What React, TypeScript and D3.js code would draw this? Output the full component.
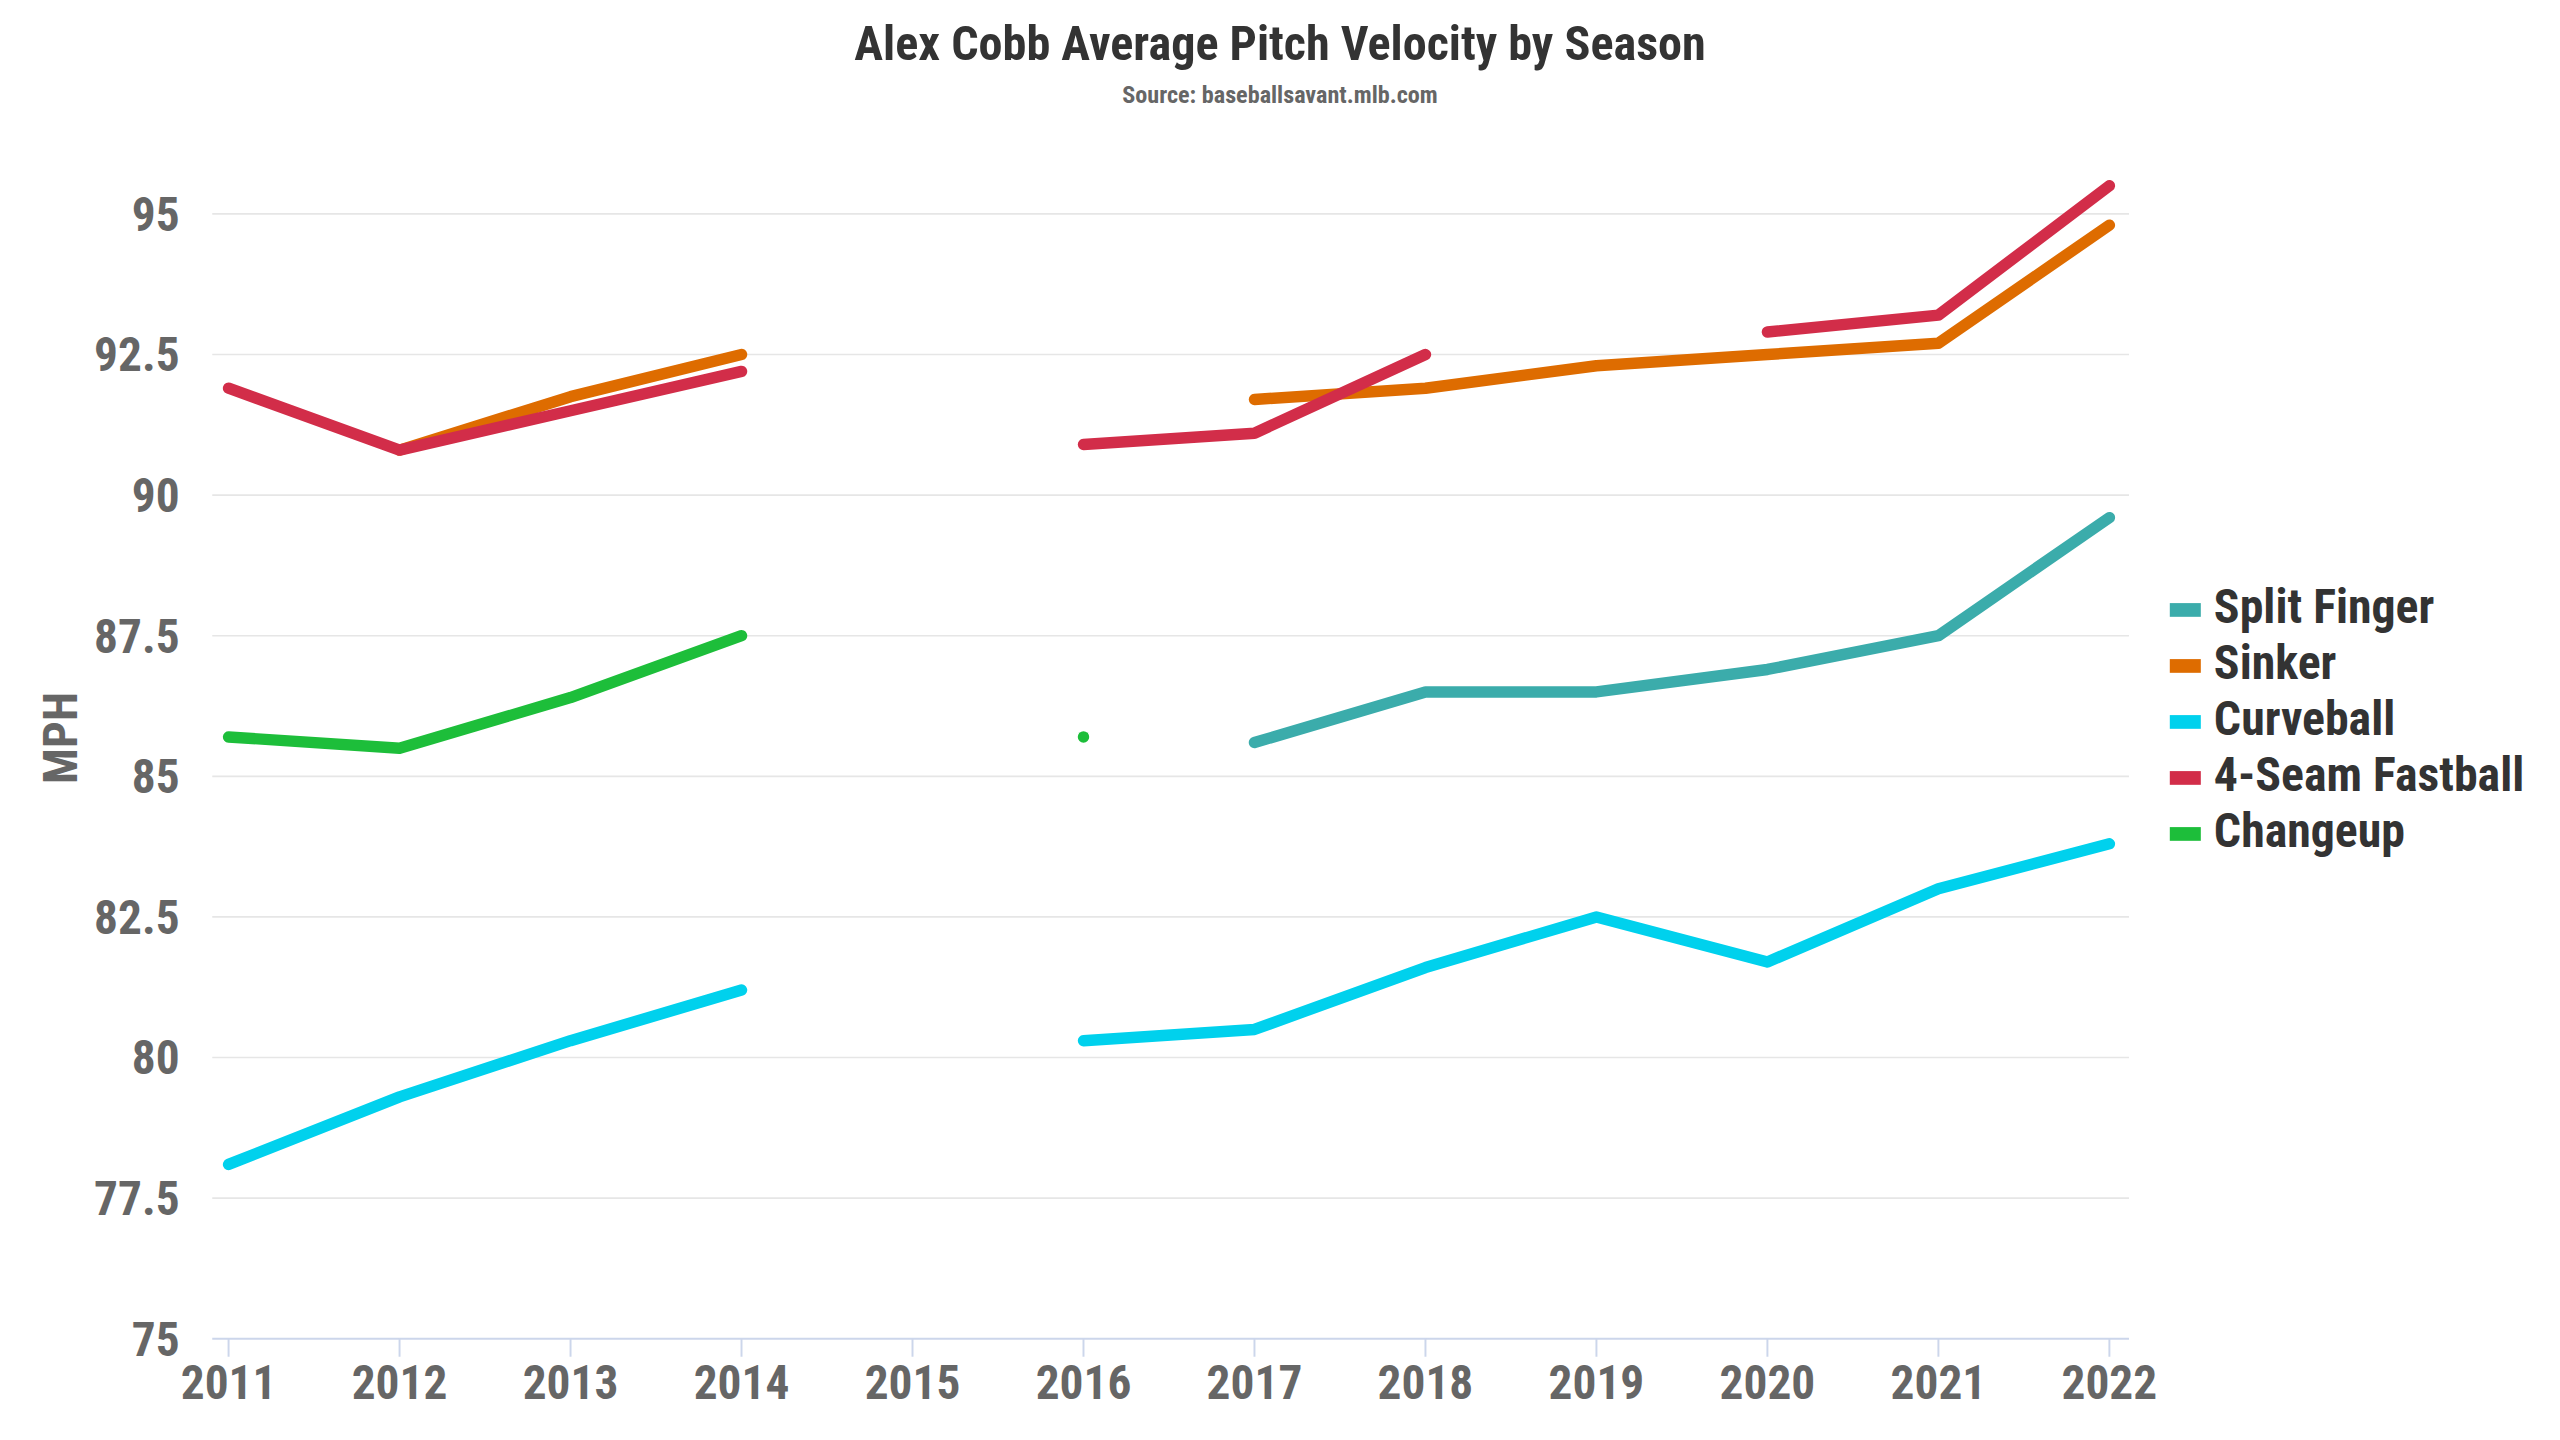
import React, { useEffect } from 'react';
import * as d3 from 'd3';

const years = [2011, 2012, 2013, 2014, 2015, 2016, 2017, 2018, 2019, 2020, 2021, 2022];
const seriesNames = ['Split Finger', 'Sinker', 'Curveball', '4-Seam Fastball', 'Changeup'];
const seriesColors = ['#3bacab', '#de6c00', '#00d1ed', '#d22d49', '#1dbe3a'];
const splitFinger = [null, null, null, null, null, null, 85.6, 86.5, 86.5, 86.9, 87.5, 89.6];
const sinker = [null, 90.8, 91.75, 92.5, null, null, 91.7, 91.9, 92.3, 92.5, 92.7, 94.8];
const curveball = [78.1, 79.3, 80.3, 81.2, null, 80.3, 80.5, 81.6, 82.5, 81.7, 83.0, 83.8];
const fourSeam = [91.9, 90.8, 91.5, 92.2, null, 90.9, 91.1, 92.5, null, 92.9, 93.2, 95.5];
const changeup = [85.7, 85.5, 86.4, 87.5, null, 85.7, null, null, null, null, null, null];
const yTicks = [75, 77.5, 80, 82.5, 85, 87.5, 90, 92.5, 95];
const allSeries = [splitFinger, sinker, curveball, fourSeam, changeup];

const W = 1568;
const H = 882;
const FONT = "'Roboto Condensed', Roboto, 'Liberation Sans', sans-serif";

export default function App() {
  useEffect(() => {
    document.body.style.margin = '0';
  }, []);

  const x = d3.scaleLinear().domain([2011, 2022]).range([140, 1292]);
  const y = d3.scaleLinear().domain([75, 95]).range([820, 131]);
  const plotLeft = 130;
  const plotRight = 1304;

  const line = d3
    .line<number | null>()
    .defined((d) => d !== null)
    .x((_, i) => x(years[i]))
    .y((d) => y(d as number));

  const isolated = (vals: (number | null)[]) =>
    vals
      .map((v, i) => ({ v, i }))
      .filter(
        ({ v, i }) =>
          v !== null && (i === 0 || vals[i - 1] === null) && (i === vals.length - 1 || vals[i + 1] === null)
      );

  const legendY0 = 373.6;
  const legendStep = 34.3;

  return (
    <svg width={2560} height={1440} viewBox={`0 0 ${W} ${H}`} style={{ display: 'block', background: '#fff' }}>
      <rect x={0} y={0} width={W} height={H} fill="#fff" />
      {/* title */}
      <text x={784} y={37} textAnchor="middle" fontFamily={FONT} fontWeight={700} fontSize={29.5} fill="#333333">
        Alex Cobb Average Pitch Velocity by Season
      </text>
      <text x={784} y={63} textAnchor="middle" fontFamily={FONT} fontWeight={700} fontSize={14.8} fill="#666666">
        Source: baseballsavant.mlb.com
      </text>
      {/* grid */}
      {yTicks.map((t) =>
        t === 75 ? null : (
          <line key={t} x1={plotLeft} x2={plotRight} y1={y(t)} y2={y(t)} stroke="#e6e6e6" strokeWidth={1} />
        )
      )}
      {/* y labels */}
      {yTicks.map((t) => (
        <text
          key={'yl' + t}
          x={110}
          y={y(t) + 10.3}
          textAnchor="end"
          fontFamily={FONT}
          fontWeight={700}
          fontSize={29}
          fill="#666666"
        >
          {String(t)}
        </text>
      ))}
      <text
        transform="translate(47,452) rotate(-90)"
        textAnchor="middle"
        fontFamily={FONT}
        fontWeight={700}
        fontSize={29}
        fill="#666666"
      >
        MPH
      </text>
      {/* x axis */}
      <line x1={plotLeft} x2={plotRight} y1={820} y2={820} stroke="#ccd6eb" strokeWidth={1.2} />
      {years.map((yr) => (
        <g key={yr}>
          <line x1={x(yr)} x2={x(yr)} y1={820} y2={831} stroke="#ccd6eb" strokeWidth={1.2} />
          <text
            x={x(yr)}
            y={857}
            textAnchor="middle"
            fontFamily={FONT}
            fontWeight={700}
            fontSize={29}
            fill="#666666"
          >
            {String(yr)}
          </text>
        </g>
      ))}
      {/* series */}
      {allSeries.map((vals, si) => (
        <g key={seriesNames[si]}>
          <path
            d={line(vals) || ''}
            fill="none"
            stroke={seriesColors[si]}
            strokeWidth={7}
            strokeLinecap="round"
            strokeLinejoin="round"
          />
          {isolated(vals).map(({ v, i }) => {
            const cx = x(years[i]);
            const cy = y(v as number);
            return (
              <path
                key={i}
                d={`M${cx - 3},${cy - 2.6}L${cx + 3},${cy - 2.6}L${cx},${cy + 2.8}Z`}
                fill={seriesColors[si]}
              />
            );
          })}
        </g>
      ))}
      {/* legend */}
      {seriesNames.map((n, i) => (
        <g key={'lg' + n}>
          <rect x={1329} y={legendY0 + i * legendStep - 4.2} width={19} height={8.4} fill={seriesColors[i]} />
          <text
            x={1356}
            y={legendY0 + i * legendStep + 8}
            fontFamily={FONT}
            fontWeight={700}
            fontSize={29.3}
            fill="#333333"
          >
            {n}
          </text>
        </g>
      ))}
    </svg>
  );
}
